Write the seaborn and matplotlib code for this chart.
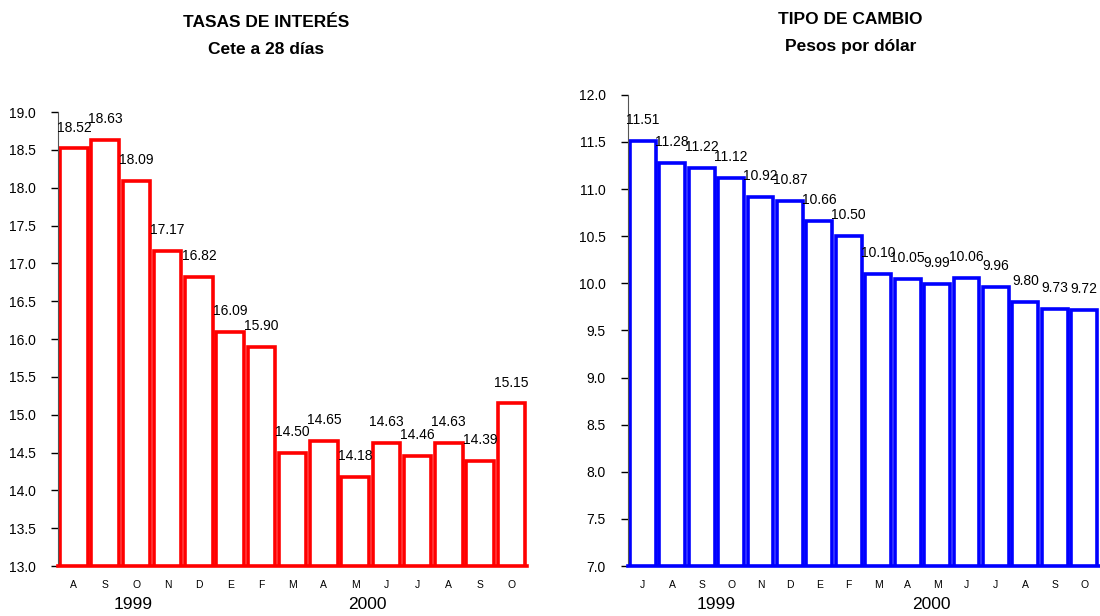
import numpy as np
import pandas as pd
import matplotlib
matplotlib.use("Agg")
import matplotlib.pyplot as plt
import matplotlib.transforms as mtransforms
import seaborn as sns

# Cete a 28 dias (Aug 1999 - Oct 2000)
cete_months = ["A", "S", "O", "N", "D", "E", "F", "M", "A", "M", "J", "J", "A", "S", "O"]
cete_values = [18.52, 18.63, 18.09, 17.17, 16.82, 16.09, 15.90, 14.50, 14.65,
               14.18, 14.63, 14.46, 14.63, 14.39, 15.15]

# Pesos por dolar (Jul 1999 - Oct 2000)
fx_months = ["J", "A", "S", "O", "N", "D", "E", "F", "M", "A", "M", "J", "J", "A", "S", "O"]
fx_values = [11.51, 11.28, 11.22, 11.12, 10.92, 10.87, 10.66, 10.50, 10.10,
             10.05, 9.99, 10.06, 9.96, 9.80, 9.73, 9.72]

sns.set_style("white")
plt.rcParams["font.family"] = ["Liberation Sans", "DejaVu Sans"]
plt.rcParams["text.color"] = "black"
plt.rcParams["xtick.color"] = "black"
plt.rcParams["ytick.color"] = "black"

fig = plt.figure(figsize=(11, 6.16), dpi=100)
ax1 = fig.add_axes([0.053, 0.081, 0.426, 0.737])
ax2 = fig.add_axes([0.571, 0.081, 0.428, 0.765])


def draw_panel(ax, months, values, color, ylim, title, subtitle, title_x, title_y, years):
    df = pd.DataFrame({"pos": np.arange(len(values)), "value": values})
    sns.barplot(data=df, x="pos", y="value", ax=ax, color="white",
                edgecolor=color, linewidth=2.6, width=0.88, saturation=1)
    ax.set_ylim(*ylim)
    ax.set_xlim(-0.5, len(values) - 0.5)
    yt = np.arange(ylim[0], ylim[1] + 0.01, 0.5)
    ax.set_yticks(yt)
    ax.set_yticklabels([f"{v:.1f}" for v in yt], fontsize=10)
    ax.set_xticks(np.arange(len(values)))
    ax.set_xticklabels(months, fontsize=7.5)
    ax.set_xticks(np.arange(len(values) + 1) - 0.5, minor=True)
    ax.tick_params(axis="x", which="major", length=0, pad=10)
    ax.tick_params(axis="x", which="minor", length=4, width=1, direction="out", color="black")
    ax.tick_params(axis="y", length=5, width=1, direction="out", color="black", left=True, pad=11)
    ax.set_xlabel("")
    ax.set_ylabel("")
    for s in ["top", "right"]:
        ax.spines[s].set_visible(False)
    ax.spines["left"].set_color("#555555")
    ax.spines["bottom"].set_color(color)
    ax.spines["bottom"].set_linewidth(2.6)
    ax.bar_label(ax.containers[0], fmt="%.2f", padding=10, fontsize=10)
    # year labels under the month row
    trans = mtransforms.blended_transform_factory(ax.transData, fig.transFigure)
    for yr, xpos in years:
        ax.text(xpos, 0.011, yr, transform=trans, ha="center", va="baseline", fontsize=12.5)
    fig.text(title_x, title_y, title, ha="center", va="center", fontsize=12.5, fontweight="bold")
    fig.text(title_x, title_y - 0.044, subtitle, ha="center", va="center", fontsize=12.5, fontweight="bold")


draw_panel(ax1, cete_months, cete_values, "#ff0000", (13.0, 19.0),
           "TASAS DE INTERÉS", "Cete a 28 días", 0.242, 0.964,
           [("1999", 1.9), ("2000", 9.4)])
draw_panel(ax2, fx_months, fx_values, "#0000ff", (7.0, 12.0),
           "TIPO DE CAMBIO", "Pesos por dólar", 0.773, 0.968,
           [("1999", 2.5), ("2000", 9.8)])

fig.savefig("out.png", dpi=100)
